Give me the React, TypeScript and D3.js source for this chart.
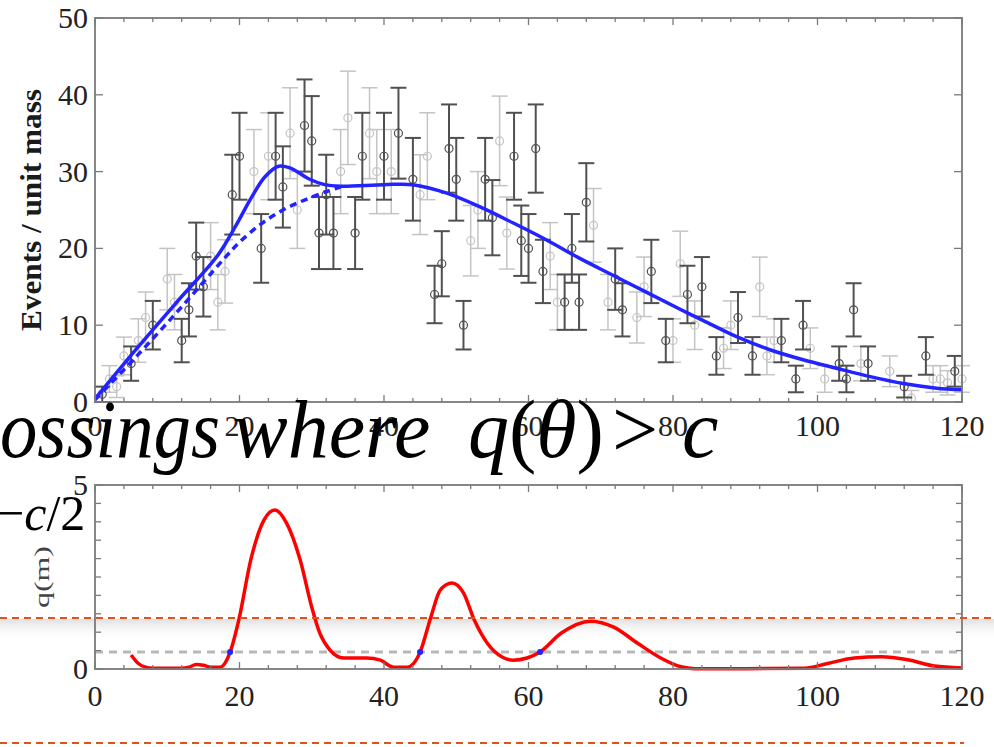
import React from "react";
import * as d3 from "d3";

// ---------- data ----------
const darkX = [1, 5, 8, 12, 13, 14, 15, 19, 20, 23, 25, 26, 29, 30, 31, 32, 33, 36, 37, 40, 42, 44, 47, 48, 49, 50, 51, 54, 55, 58, 59, 60, 61, 62, 65, 66, 67, 68, 72, 73, 77, 79, 82, 84, 86, 89, 91, 95, 97, 98, 103, 104, 105, 107, 112, 115, 119];
const darkY = [1, 5, 10, 8, 12, 19, 15, 27, 32, 20, 32, 28, 36, 34, 22, 27, 22, 22, 32, 32, 35, 29, 14, 18, 33, 29, 10, 29, 24, 32, 21, 20, 33, 17, 13, 20, 13, 26, 16, 12, 17, 8, 14, 15, 6, 11, 6, 8, 3, 10, 5, 3, 12, 5, 2, 6, 4];
const lightX = [2, 3, 4, 6, 7, 10, 11, 16, 17, 18, 22, 24, 27, 28, 34, 35, 38, 39, 41, 45, 46, 52, 53, 56, 57, 63, 64, 69, 71, 75, 76, 80, 81, 83, 87, 88, 92, 93, 94, 99, 101, 106, 110, 113, 116, 117, 118, 120];
const lightY = [3, 2, 6, 8, 11, 16, 13, 19, 13, 17, 30, 32, 35, 25, 30, 37, 35, 30, 30, 27, 32, 21, 25, 34, 22, 19, 13, 23, 13, 11, 15, 8, 18, 10, 7, 10, 15, 6, 8, 7, 3, 5, 4, 0.5, 3, 3, 2.5, 3];

const fitX = [0, 6, 11.5, 17, 19.4, 21.7, 23.5, 25.4, 27.2, 29.5, 31.8, 34, 40, 44, 48.7, 53.3, 57.9, 62.5, 67.1, 71.7, 76.3, 80.5, 84.2, 88.8, 93.4, 98, 102.6, 107.3, 111.9, 116.5, 120];
const fitY = [0.4, 7.2, 13.2, 19.1, 22.8, 26.7, 29.3, 30.7, 30.4, 29.1, 28.3, 28.1, 28.3, 28.3, 27.2, 25.4, 23.3, 21.1, 18.7, 16.5, 14.3, 12.3, 10.6, 8.5, 6.8, 5.5, 4.4, 3.3, 2.4, 1.8, 1.6];
const bgX = [0, 5, 10, 15, 18, 20, 23, 26, 29, 32, 34];
const bgY = [0.3, 5.2, 10.3, 15.6, 18.8, 20.8, 23.2, 25, 26.3, 27.4, 28];

const qX = [5, 6, 7, 8, 10, 12, 13, 14, 15, 16, 17.3, 18.7, 19.9, 21.6, 23.4, 24.9, 26.5, 28.4, 30, 31.1, 32.5, 34.4, 37.6, 39.5, 41.3, 43.2, 45, 46.5, 47.8, 49.4, 51, 52.5, 54.3, 56.4, 57.9, 59.8, 61.6, 64.5, 68.6, 71.8, 75.1, 78.3, 81.1, 83, 90, 98.2, 101.4, 105.1, 108.8, 112.5, 116.2, 120];
const qY = [0.38, 0.15, 0.05, 0.02, 0.02, 0.02, 0.05, 0.12, 0.1, 0.05, 0.05, 0.46, 1.33, 3.0, 4.05, 4.32, 3.97, 2.96, 1.68, 0.98, 0.52, 0.3, 0.3, 0.24, 0.05, 0.05, 0.46, 1.42, 2.15, 2.34, 2.07, 1.33, 0.7, 0.32, 0.24, 0.3, 0.46, 0.97, 1.3, 1.14, 0.7, 0.3, 0.06, 0.01, 0.01, 0.02, 0.15, 0.3, 0.33, 0.25, 0.08, 0.03];
const crossX = [18.7, 45, 61.6];
const threshold = 0.46;

const xTicks = [0, 20, 40, 60, 80, 100, 120];
const topYTicks = [0, 10, 20, 30, 40, 50];
const botYLabels = [0, 5];

// ---------- layout ----------
const W = 994, H = 747;
const x = d3.scaleLinear().domain([0, 120]).range([95, 962]);
const yT = d3.scaleLinear().domain([0, 50]).range([402, 18]);
const yB = d3.scaleLinear().domain([0, 5]).range([669, 485]);

const serif = "'Liberation Serif', 'DejaVu Serif', serif";
const frameCol = "#7a7a7a";
const labelCol = "#222";

function Frame({ yScale, yMajor, yMinorStep }: { yScale: any; yMajor: number[]; yMinorStep: number }) {
  const [y0, y1] = yScale.range();
  const x0 = x(0), x1 = x(120);
  const minorX = d3.range(0, 121, 4);
  const ys = d3.range(yScale.domain()[0], yScale.domain()[1] + 1e-9, yMinorStep);
  return (
    <g>
      <rect x={x0} y={y1} width={x1 - x0} height={y0 - y1} fill="none" stroke={frameCol} strokeWidth={1.8} />
      {minorX.map((v) => {
        const major = v % 20 === 0;
        const L = major ? 7 : 4;
        return (
          <g key={v}>
            <line x1={x(v)} x2={x(v)} y1={y0} y2={y0 - L} stroke={frameCol} strokeWidth={1.3} />
            <line x1={x(v)} x2={x(v)} y1={y1} y2={y1 + L} stroke={frameCol} strokeWidth={1.3} />
          </g>
        );
      })}
      {ys.map((v) => {
        const L = yMajor.includes(v) ? 8 : 6;
        return (
          <g key={v}>
            <line x1={x0} x2={x0 + L} y1={yScale(v)} y2={yScale(v)} stroke={frameCol} strokeWidth={1.3} />
            <line x1={x1} x2={x1 - L} y1={yScale(v)} y2={yScale(v)} stroke={frameCol} strokeWidth={1.3} />
          </g>
        );
      })}
    </g>
  );
}

function ErrorPoints({ xs, ys, color, width }: { xs: number[]; ys: number[]; color: string; width: number }) {
  return (
    <g>
      {xs.map((xv, i) => {
        const v = ys[i];
        const e = Math.sqrt(Math.max(v, 1));
        const lo = Math.max(0, v - e), hi = v + e;
        const cx = x(xv);
        return (
          <g key={i} stroke={color} strokeWidth={width} fill="none">
            <line x1={cx} x2={cx} y1={yT(lo)} y2={yT(hi)} />
            <line x1={cx - 8} x2={cx + 8} y1={yT(lo)} y2={yT(lo)} />
            <line x1={cx - 8} x2={cx + 8} y1={yT(hi)} y2={yT(hi)} />
            <circle cx={cx} cy={yT(v)} r={4} strokeWidth={1.2} />
          </g>
        );
      })}
    </g>
  );
}

export default function App() {
  const fitLine = d3.line<number>().x((d, i) => x(fitX[i])).y((d) => yT(d)).curve(d3.curveCatmullRom);
  const bgLine = d3.line<number>().x((d, i) => x(bgX[i])).y((d) => yT(d)).curve(d3.curveCatmullRom);
  const qLine = d3.line<number>().x((d, i) => x(qX[i])).y((d) => yB(Math.max(0, d))).curve(d3.curveMonotoneX);

  return (
    <svg width={W} height={H} style={{ position: "absolute", left: 0, top: 0, background: "#fff" }} fontFamily={serif}>
      <defs>
        <linearGradient id="shade" x1="0" y1="0" x2="0" y2="1">
          <stop offset="0" stopColor="#d8d8d8" stopOpacity={0.8} />
          <stop offset="1" stopColor="#ffffff" stopOpacity={0} />
        </linearGradient>
      </defs>
      <rect x={0} y={0} width={W} height={H} fill="#fff" />
      <rect x={0} y={619} width={W} height={22} fill="url(#shade)" />

      {/* ---------- top panel ---------- */}
      <ErrorPoints xs={lightX} ys={lightY} color="#c4c4c4" width={1.5} />
      <ErrorPoints xs={darkX} ys={darkY} color="#505050" width={2} />
      <path d={bgLine(bgY) || ""} fill="none" stroke="#2323ff" strokeWidth={3.5} strokeDasharray="7 5" />
      <path d={fitLine(fitY) || ""} fill="none" stroke="#2323ff" strokeWidth={3.5} />
      <Frame yScale={yT} yMajor={topYTicks} yMinorStep={10} />
      {topYTicks.map((t) => (
        <text key={t} x={88} y={yT(t) + 10} textAnchor="end" fontSize={30} fill={labelCol}>{t}</text>
      ))}
      {xTicks.map((t) => (
        <text key={t} x={x(t)} y={436} textAnchor="middle" fontSize={30} fill={labelCol}>{t}</text>
      ))}
      <text transform={`translate(41,210) rotate(-90)`} textAnchor="middle" fontSize={30} fontWeight="bold" fill="#1a1a1a" textLength={242} lengthAdjust="spacingAndGlyphs">Events / unit mass</text>

      {/* ---------- bottom panel ---------- */}
      <line x1={x(0)} x2={x(120)} y1={yB(threshold)} y2={yB(threshold)} stroke="#b8b8b8" strokeWidth={3} strokeDasharray="8 6" />
      <path d={qLine(qY) || ""} fill="none" stroke="#ff0000" strokeWidth={3.5} strokeLinejoin="round" />
      {crossX.map((c) => (
        <circle key={c} cx={x(c)} cy={yB(threshold)} r={3} fill="#2323ff" />
      ))}
      <Frame yScale={yB} yMajor={botYLabels} yMinorStep={0.5} />
      {botYLabels.map((t) => (
        <text key={t} x={88} y={yB(t) + 10} textAnchor="end" fontSize={30} fill={labelCol}>{t}</text>
      ))}
      {xTicks.map((t) => (
        <text key={t} x={x(t)} y={706} textAnchor="middle" fontSize={30} fill={labelCol}>{t}</text>
      ))}
      <text transform={`translate(49,577) rotate(-90)`} textAnchor="middle" fontSize={20} fill="#444" textLength={62} lengthAdjust="spacingAndGlyphs">q(m)</text>

      {/* ---------- slide overlay ---------- */}
      <line x1={0} x2={W} y1={618} y2={618} stroke="#e0521c" strokeWidth={2} strokeDasharray="7 5" />
      <line x1={0} x2={964} y1={743} y2={743} stroke="#e0521c" strokeWidth={2} strokeDasharray="7 5" />
      <g fontStyle="italic" fontSize={82} fill="#000">
        <text x={0} y={457} textLength={220} lengthAdjust="spacingAndGlyphs">ossings</text>
        <text x={233} y={457}>where</text>
        <text x={468} y={457}>q<tspan fontStyle="normal">(</tspan>θ<tspan fontStyle="normal">)</tspan></text>
        <text x={612} y={457} fontStyle="normal">&gt;</text>
        <text x={682} y={457}>c</text>
      </g>
      <text x={-4} y={530} fontSize={50} fill="#000">−<tspan fontStyle="italic">c</tspan>/2</text>
    </svg>
  );
}
